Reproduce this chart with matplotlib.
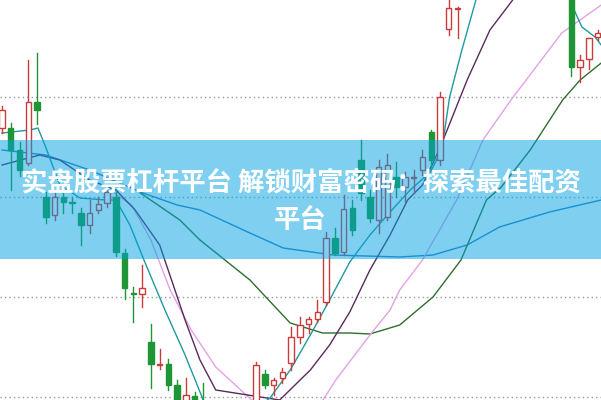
import matplotlib.pyplot as plt
import numpy as np

plt.rcParams['font.family'] = ['Noto Sans CJK SC', 'DejaVu Sans']

# candle data (open, high, low, close) per session; values beyond the view are estimates
opens = [29.69, 29.69, 29.47, 29.34, 29.95, 29.00, 28.82, 29.00, 28.95, 28.84,
         28.72, 28.87, 28.94, 29.00, 28.44, 28.04, 28.03, 27.55, 27.32, 27.33,
         27.12, 26.77, 27.01, 26.87, 26.72, 26.57, 26.67, 26.52, 26.62, 26.72,
         27.23, 27.12, 27.19, 27.34, 27.60, 27.73, 27.78, 27.95, 28.59, 28.45,
         28.89, 29.37, 29.00, 28.77, 28.80, 29.20, 29.10, 29.19, 29.27, 29.65,
         29.37, 30.68, 30.88, 31.2, 31.4, 31.6, 31.8, 31.9, 32.0, 31.9,
         31.8, 31.7, 31.6, 31.5, 31.4, 31.20, 30.30, 30.38, 30.60]
highs = [29.91, 29.74, 29.55, 30.37, 30.44, 29.05, 29.05, 29.04, 29.00, 28.89,
         28.97, 29.00, 29.12, 29.07, 28.48, 28.10, 28.32, 27.73, 27.48, 27.38,
         27.17, 27.19, 27.05, 27.14, 26.87, 26.77, 26.82, 26.72, 26.82, 27.35,
         27.27, 27.19, 27.29, 27.70, 27.80, 27.80, 27.97, 28.65, 28.69, 29.02,
         28.97, 29.57, 29.07, 29.37, 29.43, 29.35, 29.25, 29.27, 29.47, 29.67,
         30.05, 31.10, 30.90, 31.5, 31.7, 31.9, 32.0, 32.1, 32.2, 32.1,
         32.0, 31.9, 31.8, 31.7, 31.6, 31.30, 30.42, 30.57, 30.67]
lows = [29.64, 29.07, 29.21, 29.32, 29.73, 28.74, 28.77, 28.84, 28.84, 28.52,
        28.64, 28.84, 28.90, 28.41, 27.98, 27.75, 27.90, 27.09, 27.28, 27.07,
        26.77, 26.72, 26.67, 26.57, 26.52, 26.42, 26.47, 26.37, 26.47, 26.67,
        27.09, 27.02, 27.14, 27.27, 27.54, 27.64, 27.75, 27.92, 28.42, 28.42,
        28.62, 28.97, 28.75, 28.64, 28.77, 29.00, 28.95, 29.04, 29.22, 29.30,
        29.32, 30.62, 30.59, 31.1, 31.2, 31.4, 31.6, 31.7, 31.8, 31.7,
        31.6, 31.5, 31.4, 31.3, 31.2, 30.21, 30.15, 30.28, 30.57]
closes = [29.87, 29.47, 29.27, 29.95, 29.87, 28.80, 29.00, 28.95, 28.94, 28.72,
          28.84, 28.93, 29.05, 28.45, 28.09, 28.03, 28.09, 27.33, 27.33, 27.12,
          26.87, 27.02, 26.77, 26.67, 26.57, 26.67, 26.52, 26.62, 26.72, 27.32,
          27.12, 27.17, 27.25, 27.60, 27.72, 27.78, 27.85, 28.59, 28.44, 28.88,
          28.67, 29.04, 28.79, 29.30, 29.32, 29.10, 29.20, 29.20, 29.40, 29.37,
          30.00, 30.89, 30.89, 31.4, 31.6, 31.8, 31.9, 32.0, 31.9, 31.8,
          31.7, 31.6, 31.5, 31.4, 31.2, 30.30, 30.37, 30.59, 30.64]

# moving average lines, sampled at candle positions (index, price)
ma5_x = [0, 3.2, 4.1, 4.9, 6.6, 8.9, 11.8, 13.0, 14.6, 16.3,
         18.6, 20.9, 23.2, 25.5, 28.3, 30.6, 32.9, 35.2, 37.4, 39.7,
         42.0, 44.3, 46.6, 48.9, 50.2, 51.1, 52.5, 54.1, np.nan, 64.8, 66.2, 67.7, 68.4]
ma5_y = [29.64, 29.67, 29.69, 29.52, 29.12, 28.99, 28.97, 28.97, 28.72, 28.35,
         27.87, 27.42, 26.92, 26.77, 26.85, 26.99, 27.27, 27.62, 27.97, 28.35,
         28.62, 28.85, 29.07, 29.25, 29.47, 30.00, 30.47, 30.97, np.nan, 30.97, 30.70, 30.60, 30.52]

ma10_x = [0, 4.3, 6.6, 10.0, 13.0, 15.2, 18.0, 20.9, 22.6, 24.4,
          31.7, 35.2, 37.4, 39.7, 42.0, 44.3, 46.3, 48.0, 49.9, 53.1, 55.7, 58.3]
ma10_y = [29.32, 29.42, 29.37, 29.17, 29.07, 28.87, 28.52, 27.77, 27.37, 27.07,
          26.97, 27.27, 27.52, 27.85, 28.27, 28.62, 28.97, 29.12, 29.47, 30.17, 30.67, 30.97]

ma20_x = [12.3, 14.8, 17.0, 19.2, 21.6, 24.4, 28.5, 32.2, 35.7, 38.1,
          42.0, 44.3, 45.4, 48.0, 51.9, 54.9, 58.1, 63.9, 68.4]
ma20_y = [29.07, 28.92, 28.57, 28.07, 27.67, 27.30, 26.97, 26.80, 26.84, 27.17,
          27.62, 27.87, 28.07, 28.37, 28.97, 29.57, 29.97, 30.64, 30.92]

ma30_x = [15.8, 20.3, 22.6, 28.3, 32.9, 36.6, 39.7, 42.0, 45.4, 49.2,
          52.4, 55.3, 57.0, 60.3, 64.0, 66.0, 68.4]
ma30_y = [29.04, 28.77, 28.57, 28.17, 27.74, 27.64, 27.64, 27.63, 27.72, 28.00,
          28.37, 28.97, 29.10, 29.47, 29.97, 30.17, 30.34]

ma60_x = [0, 5.0, 10.0, 16.1, 20.0, 22.6, 28.3, 32.1, 37.8, 45.4,
          49.2, 53.1, 56.8, 62.5, 68.4]
ma60_y = [29.47, 29.42, 29.27, 29.04, 28.92, 28.87, 28.64, 28.49, 28.42, 28.40,
          28.42, 28.52, 28.70, 28.85, 28.97]

grid_levels = [30.0, 29.0, 28.0, 27.0]
title_lines = ['实盘股票杠杆平台 解锁财富密码：探索最佳配资', '平台']

red = '#cc3b3b'
green = '#1e9636'

fig = plt.figure(figsize=(6.01, 4.0), dpi=100)
ax = fig.add_axes([0, 0, 1, 1])
ax.set_xlim(-0.228, 68.38)
ax.set_ylim(26.97, 30.97)
ax.axis('off')

for lv in grid_levels:
    ax.axhline(lv, color='#9a9a9a', lw=1.0, ls=(0, (1, 2.2)), zorder=1)

for x, y, c in [(ma60_x, ma60_y, '#2f7fc4'), (ma30_x, ma30_y, '#2e6e2e'),
                (ma20_x, ma20_y, '#e3a2e6'), (ma10_x, ma10_y, '#5a2a5e'),
                (ma5_x, ma5_y, '#1f9a9e')]:
    ax.plot(x, y, color=c, lw=1.0, zorder=2)

w = 0.62
for i, (o, h, l, c) in enumerate(zip(opens, highs, lows, closes)):
    up = c >= o
    col = red if up else green
    lo, hi = min(o, c), max(o, c)
    ax.plot([i, i], [l, lo], color=col, lw=1.0, zorder=3)
    ax.plot([i, i], [hi, h], color=col, lw=1.0, zorder=3)
    body = max(hi - lo, 0.01)
    face = 'white' if up else col
    ax.add_patch(plt.Rectangle((i - w / 2, lo), w, body, facecolor=face,
                               edgecolor=col, lw=1.0, zorder=3))

# banner
ax.axhspan(28.38, 29.57, color='#00a2e2', alpha=0.5, lw=0, zorder=4)
fig.text(0.5, 1 - 183 / 400, title_lines[0], color='white', fontsize=19,
         fontweight='bold', ha='center', va='center', zorder=5)
fig.text(0.5, 1 - 220 / 400, title_lines[1], color='white', fontsize=19,
         fontweight='bold', ha='center', va='center', zorder=5)

fig.savefig('out.png', dpi=100)
